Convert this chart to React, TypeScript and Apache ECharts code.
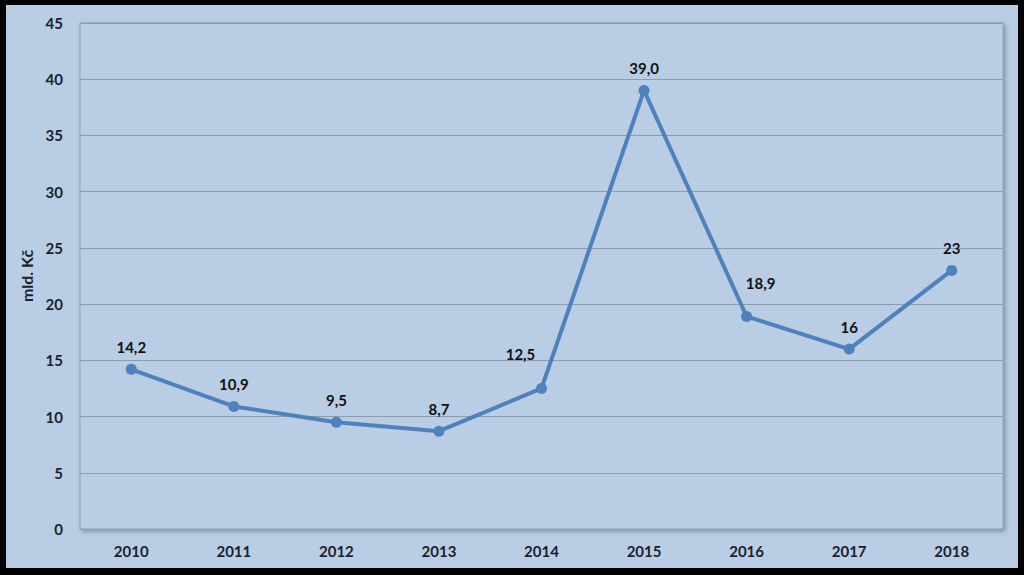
import React, { useEffect, useRef } from "react";
import * as echarts from "echarts";

const years = ["2010", "2011", "2012", "2013", "2014", "2015", "2016", "2017", "2018"];
const values = [14.2, 10.9, 9.5, 8.7, 12.5, 39.0, 18.9, 16, 23];
const valueLabels = ["14,2", "10,9", "9,5", "8,7", "12,5", "39,0", "18,9", "16", "23"];
const yAxisTitle = "mld. Kč";

export default function App() {
  const ref = useRef<HTMLDivElement>(null);
  useEffect(() => {
    document.body.style.margin = "0";
    const chart = echarts.init(ref.current!, null, { renderer: "svg" });
    const font = "Lato, 'DejaVu Sans', sans-serif";
    const offsets: Record<number, number[]> = { 4: [-21, -12], 6: [14, -11] };
    const data = values.map((v, i) => ({
      value: v,
      label: {
        formatter: valueLabels[i],
        offset: offsets[i] || [0, 0],
      },
    }));
    chart.setOption({
      animation: false,
      backgroundColor: "#000000",
      graphic: [
        {
          type: "rect",
          shape: { x: 6, y: 5, width: 1012, height: 563 },
          style: { fill: "#b9cde5" },
          z: -10,
        },
      ],
      grid: {
        left: 80,
        top: 23,
        right: 21,
        bottom: 46,
        show: true,
        backgroundColor: "#b9cde5",
        borderColor: "#909fb2",
        borderWidth: 1,
        shadowColor: "rgba(60,70,90,0.45)",
        shadowBlur: 4,
        shadowOffsetX: 2,
        shadowOffsetY: 2,
      },
      xAxis: {
        type: "category",
        data: years,
        boundaryGap: true,
        axisLine: { show: true, lineStyle: { color: "#909fb2", width: 1 } },
        axisTick: { show: false },
        axisLabel: {
          color: "#1a1f2e",
          fontFamily: font,
          fontWeight: "bold",
          fontSize: 15,
          margin: 14,
        },
      },
      yAxis: {
        type: "value",
        min: 0,
        max: 45,
        interval: 5,
        name: yAxisTitle,
        nameLocation: "middle",
        nameGap: 39,
        nameRotate: 90,
        nameTextStyle: {
          color: "#1a1f2e",
          fontFamily: font,
          fontWeight: "bold",
          fontSize: 16,
        },
        axisLine: { show: false },
        axisTick: { show: false },
        splitLine: { lineStyle: { color: "#8d9bad", width: 1 } },
        axisLabel: {
          color: "#1a1f2e",
          fontFamily: font,
          fontWeight: "bold",
          fontSize: 15,
          margin: 17,
        },
      },
      series: [
        {
          type: "line",
          data,
          symbol: "circle",
          symbolSize: 11,
          itemStyle: { color: "#4f81bd" },
          lineStyle: { color: "#4f81bd", width: 4 },
          label: {
            show: true,
            position: "top",
            distance: 9,
            color: "#111111",
            fontFamily: font,
            fontWeight: "bold",
            fontSize: 15,
          },
        },
      ],
    });
    return () => chart.dispose();
  }, []);
  return <div ref={ref} style={{ width: 1024, height: 575 }} />;
}
